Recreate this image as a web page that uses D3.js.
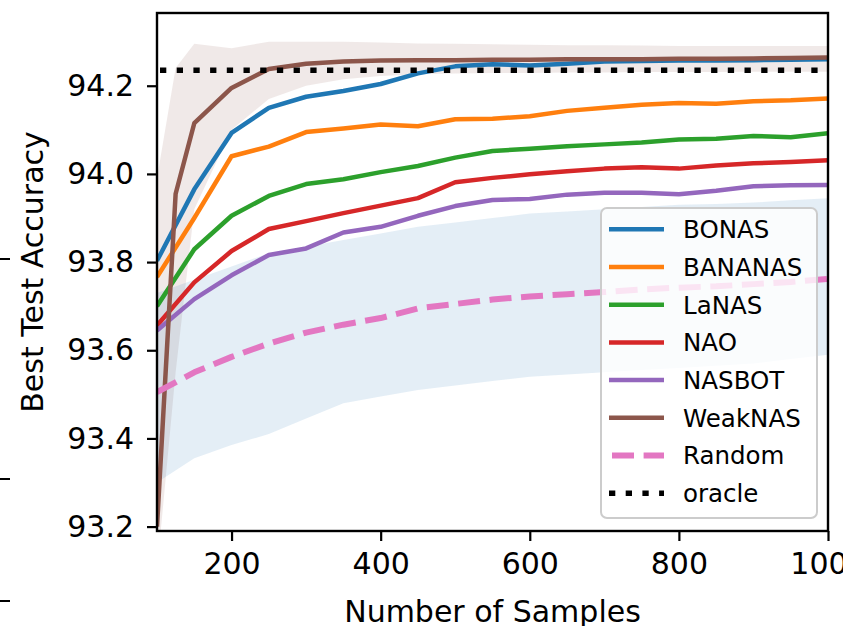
<!DOCTYPE html>
<html>
<head>
<meta charset="utf-8">
<script src="https://cdn.jsdelivr.net/npm/d3@7"></script>
<style>
  body { margin: 0; background: #fff; }
  svg { display: block; font-family: "DejaVu Sans", sans-serif; }
</style>
</head>
<body>
<div class="chart"></div>
<script>
// Sample counts shared by most methods
var samples = [100, 150, 200, 250, 300, 350, 400, 450, 500, 550, 600, 650, 700, 750, 800, 850, 900, 950, 1000];
// WeakNAS has one extra early point
var weakSamples = [100, 125, 150, 200, 250, 300, 350, 400, 450, 500, 550, 600, 650, 700, 750, 800, 850, 900, 950, 1000];

var bonas   = [93.803, 93.965, 94.093, 94.150, 94.175, 94.188, 94.204, 94.228, 94.244, 94.249, 94.246, 94.250, 94.255, 94.256, 94.257, 94.257, 94.258, 94.259, 94.260];
var bananas = [93.766, 93.900, 94.040, 94.062, 94.095, 94.103, 94.112, 94.108, 94.124, 94.125, 94.131, 94.143, 94.150, 94.157, 94.161, 94.159, 94.165, 94.167, 94.171];
var lanas   = [93.700, 93.829, 93.905, 93.950, 93.977, 93.988, 94.004, 94.018, 94.037, 94.052, 94.057, 94.063, 94.067, 94.071, 94.078, 94.080, 94.086, 94.083, 94.092];
var nao     = [93.656, 93.754, 93.825, 93.875, 93.893, 93.911, 93.928, 93.945, 93.981, 93.991, 93.999, 94.006, 94.012, 94.015, 94.012, 94.019, 94.024, 94.027, 94.031];
var nasbot  = [93.645, 93.716, 93.770, 93.816, 93.831, 93.867, 93.880, 93.905, 93.927, 93.941, 93.943, 93.953, 93.957, 93.957, 93.954, 93.962, 93.972, 93.974, 93.975];
var random  = [93.505, 93.550, 93.585, 93.615, 93.640, 93.658, 93.673, 93.695, 93.705, 93.715, 93.722, 93.727, 93.732, 93.738, 93.742, 93.745, 93.750, 93.755, 93.762];
var randomLow  = [93.300, 93.355, 93.385, 93.410, 93.445, 93.480, 93.495, 93.510, 93.520, 93.530, 93.540, 93.545, 93.550, 93.555, 93.560, 93.565, 93.570, 93.580, 93.590];
var randomHigh = [93.730, 93.760, 93.790, 93.820, 93.835, 93.850, 93.865, 93.880, 93.890, 93.900, 93.910, 93.915, 93.920, 93.925, 93.930, 93.932, 93.935, 93.940, 93.945];

var weaknas  = [93.200, 93.955, 94.115, 94.195, 94.238, 94.250, 94.255, 94.257, 94.258, 94.258, 94.259, 94.259, 94.260, 94.260, 94.260, 94.261, 94.261, 94.262, 94.263, 94.264];
var weakLow  = [93.100, 93.550, 93.920, 94.100, 94.170, 94.200, 94.215, 94.222, 94.226, 94.228, 94.229, 94.229, 94.230, 94.230, 94.231, 94.231, 94.231, 94.232, 94.232, 94.232];
var weakHigh = [93.990, 94.240, 94.295, 94.285, 94.300, 94.300, 94.300, 94.298, 94.296, 94.295, 94.294, 94.293, 94.292, 94.292, 94.291, 94.290, 94.290, 94.290, 94.290, 94.290];

var oracle = 94.235;

var methodNames  = ["BONAS", "BANANAS", "LaNAS", "NAO", "NASBOT", "WeakNAS", "Random", "oracle"];
var methodColors = ["#1f77b4", "#ff7f0e", "#2ca02c", "#d62728", "#9467bd", "#8c564b", "#e377c2", "#000000"];

var xTicks = [200, 400, 600, 800, 1000];
var yTicks = [93.2, 93.4, 93.6, 93.8, 94.0, 94.2];

var width = 843, height = 626;
var plotLeft = 157, plotRight = 828, plotTop = 13, plotBottom = 531;

var svg = d3.select(".chart").append("svg")
    .attr("width", width)
    .attr("height", height);

var x = d3.scaleLinear().domain([100, 1000]).range([plotLeft, plotRight]);
var y = d3.scaleLinear().domain([93.19, 94.365]).range([plotBottom, plotTop]);

svg.append("clipPath").attr("id", "plot")
  .append("rect")
    .attr("x", plotLeft).attr("y", plotTop)
    .attr("width", plotRight - plotLeft).attr("height", plotBottom - plotTop);

var plot = svg.append("g").attr("clip-path", "url(#plot)");

// shaded bands
function band(xs, lo, hi) {
    return d3.area()
        .x((d, i) => x(xs[i]))
        .y0((d, i) => y(lo[i]))
        .y1((d, i) => y(hi[i]))(xs);
}
plot.append("path").attr("d", band(weakSamples, weakLow, weakHigh))
    .attr("fill", "#8c564b").attr("fill-opacity", 0.13);
plot.append("path").attr("d", band(samples, randomLow, randomHigh))
    .attr("fill", "#1f77b4").attr("fill-opacity", 0.12);

// method curves
var series = [
    {xs: samples, ys: bonas},
    {xs: samples, ys: bananas},
    {xs: samples, ys: lanas},
    {xs: samples, ys: nao},
    {xs: samples, ys: nasbot},
    {xs: weakSamples, ys: weaknas},
    {xs: samples, ys: random}
];

series.forEach(function (s, k) {
    var line = d3.line().x((d, i) => x(s.xs[i])).y(d => y(d));
    var p = plot.append("path")
        .attr("d", line(s.ys))
        .attr("fill", "none")
        .attr("stroke", methodColors[k])
        .attr("stroke-width", 4.5)
        .attr("stroke-linejoin", "round");
    if (methodNames[k] == "Random") {
        p.attr("stroke-width", 6).attr("stroke-dasharray", "22 9.6");
    }
});

// oracle line
plot.append("path")
    .attr("d", d3.line()([[x(100), y(oracle)], [x(1000), y(oracle)]]))
    .attr("stroke", "#000")
    .attr("stroke-width", 5.5)
    .attr("stroke-dasharray", "6.3 10.4")
    .attr("stroke-dashoffset", -3);

// axes
var xAxis = svg.append("g")
    .attr("transform", "translate(0," + plotBottom + ")")
    .call(d3.axisBottom(x).tickValues(xTicks).tickFormat(d3.format("d")).tickSize(10).tickPadding(12));
var yAxis = svg.append("g")
    .attr("transform", "translate(" + plotLeft + ",0)")
    .call(d3.axisLeft(y).tickValues(yTicks).tickFormat(d3.format(".1f")).tickSize(10).tickPadding(13));

[xAxis, yAxis].forEach(function (a) {
    a.select(".domain").remove();
    a.selectAll(".tick line").attr("stroke", "#000").attr("stroke-width", 2.2);
    a.selectAll(".tick text").attr("fill", "#000")
        .style("font-size", "30px").style("font-family", "DejaVu Sans");
});

// frame
svg.append("rect")
    .attr("x", plotLeft).attr("y", plotTop)
    .attr("width", plotRight - plotLeft).attr("height", plotBottom - plotTop)
    .attr("fill", "none").attr("stroke", "#000").attr("stroke-width", 2.4);

// axis labels
svg.append("text")
    .attr("x", (plotLeft + plotRight) / 2).attr("y", 622)
    .attr("text-anchor", "middle")
    .style("font-size", "30px")
    .text("Number of Samples");

svg.append("text")
    .attr("transform", "translate(43," + ((plotTop + plotBottom) / 2) + ") rotate(-90)")
    .attr("text-anchor", "middle")
    .style("font-size", "30px")
    .text("Best Test Accuracy");

// stray ticks of the neighbouring panel at the left edge
var strayTicks = [259, 479, 601];
svg.selectAll(".stray").data(strayTicks).enter().append("line")
    .attr("x1", 0).attr("x2", 10)
    .attr("y1", d => d).attr("y2", d => d)
    .attr("stroke", "#000").attr("stroke-width", 2);

// legend
var legend = svg.append("g").attr("transform", "translate(601,208)");
legend.append("rect")
    .attr("width", 216).attr("height", 310)
    .attr("rx", 6)
    .attr("fill", "#fff").attr("fill-opacity", 0.8)
    .attr("stroke", "#cccccc").attr("stroke-width", 2);

var rows = legend.selectAll(".row").data(methodNames).enter().append("g")
    .attr("transform", (d, i) => "translate(0," + (21.3 + i * 37.7) + ")");

rows.append("line")
    .attr("x1", 8).attr("x2", 63)
    .attr("stroke", (d, i) => methodColors[i])
    .attr("stroke-width", d => d == "Random" ? 6 : (d == "oracle" ? 5.5 : 4.5))
    .attr("stroke-dasharray", d => d == "Random" ? "22 9.6" : (d == "oracle" ? "6.3 10.4" : null))
    .attr("stroke-dashoffset", d => d == "Random" ? -3 : null);

rows.append("text")
    .attr("x", 82).attr("dy", "0.36em")
    .style("font-size", "24.5px")
    .text(d => d);
</script>
</body>
</html>
